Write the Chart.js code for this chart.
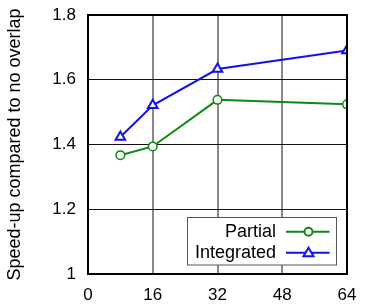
<!DOCTYPE html>
<html>
<head>
<meta charset="utf-8">
<script src="https://cdn.jsdelivr.net/npm/chart.js@4"></script>
<style>
  body { margin: 0; background: #fff; }
  #wrap { width: 368px; height: 308px; }
</style>
</head>
<body>
<div id="wrap"><canvas id="canvas" width="368" height="308"></canvas></div>
<script>
const threads = [8, 16, 32, 64];
const partial = [1.367, 1.394, 1.538, 1.524];
const integrated = [1.423, 1.521, 1.633, 1.69];
const xTicks = [0, 16, 32, 48, 64];
const yTicks = [1, 1.2, 1.4, 1.6, 1.8];
const seriesNames = ['Partial', 'Integrated'];

const FONT = 'Liberation Sans, Arial, sans-serif';

// box round the plot + legend drawn like the original (text left, sample right)
const framePlugin = {
  id: 'frame',
  afterDraw(chart) {
    const { ctx, chartArea: a } = chart;
    ctx.save();
    ctx.strokeStyle = '#000';
    ctx.lineWidth = 2;
    ctx.strokeRect(a.left, a.top, a.right - a.left, a.bottom - a.top);

    // legend
    const bx = 187.5, by = 217.5, bw = 149, bh = 47.5;
    ctx.fillStyle = '#fff';
    ctx.fillRect(bx, by, bw, bh);
    ctx.lineWidth = 1;
    ctx.strokeStyle = '#555';
    ctx.strokeRect(bx, by, bw, bh);
    ctx.font = '18px ' + FONT;
    ctx.textAlign = 'right';
    ctx.textBaseline = 'alphabetic';
    chart.data.datasets.forEach((ds, i) => {
      const y = by + 14.2 + i * 21;
      ctx.fillStyle = '#000';
      ctx.fillText(ds.label, bx + 88.5, y + 5);
      ctx.strokeStyle = ds.borderColor;
      ctx.lineWidth = 2;
      ctx.beginPath();
      ctx.moveTo(bx + 98.5, y);
      ctx.lineTo(bx + 142, y);
      ctx.stroke();
      ctx.fillStyle = '#fff';
      ctx.beginPath();
      if (ds.pointStyle === 'circle') {
        ctx.arc(bx + 121, y, 4, 0, Math.PI * 2);
      } else {
        ctx.moveTo(bx + 121, y - 5);
        ctx.lineTo(bx + 126, y + 3.5);
        ctx.lineTo(bx + 116, y + 3.5);
        ctx.closePath();
      }
      ctx.fill();
      ctx.stroke();
    });
    ctx.restore();
  }
};

new Chart(document.getElementById('canvas'), {
  type: 'line',
  data: {
    datasets: [
      {
        label: seriesNames[0],
        data: threads.map((x, i) => ({ x: x, y: partial[i] })),
        borderColor: '#118811',
        backgroundColor: '#fff',
        borderWidth: 2,
        pointStyle: 'circle',
        pointRadius: 4.3,
        pointBorderWidth: 1.5,
        fill: false
      },
      {
        label: seriesNames[1],
        data: threads.map((x, i) => ({ x: x, y: integrated[i] })),
        borderColor: '#1111ee',
        backgroundColor: '#fff',
        borderWidth: 2,
        pointStyle: 'triangle',
        pointRadius: 5.5,
        pointBorderWidth: 2,
        fill: false
      }
    ]
  },
  options: {
    responsive: false,
    animation: false,
    layout: { padding: { top: 15, right: 21, left: 0, bottom: 0 } },
    plugins: { legend: { display: false }, tooltip: { enabled: false } },
    scales: {
      x: {
        type: 'linear',
        min: 0, max: 64,
        afterBuildTicks: s => { s.ticks = xTicks.map(v => ({ value: v })); },
        afterFit: s => { s.height = 34; s.paddingLeft = 0; s.paddingRight = 0; },
        grid: { color: '#888', lineWidth: 2, drawTicks: false },
        border: { display: false },
        ticks: { color: '#000', font: { family: FONT, size: 17 }, padding: 11, maxRotation: 0 }
      },
      y: {
        min: 1, max: 1.8,
        afterBuildTicks: s => { s.ticks = yTicks.map(v => ({ value: v })); },
        afterFit: s => { s.width = 88; s.paddingTop = 0; s.paddingBottom = 0; },
        grid: { color: '#111', lineWidth: 1, drawTicks: false },
        border: { display: false },
        ticks: {
          color: '#000', font: { family: FONT, size: 17 }, padding: 12,
          callback: v => String(Math.round(v * 10) / 10)
        },
        title: {
          display: true,
          text: 'Speed-up compared to no overlap',
          color: '#000',
          font: { family: FONT, size: 18 },
          padding: { top: 4, bottom: 0 }
        }
      }
    }
  },
  plugins: [framePlugin]
});
</script>
</body>
</html>
